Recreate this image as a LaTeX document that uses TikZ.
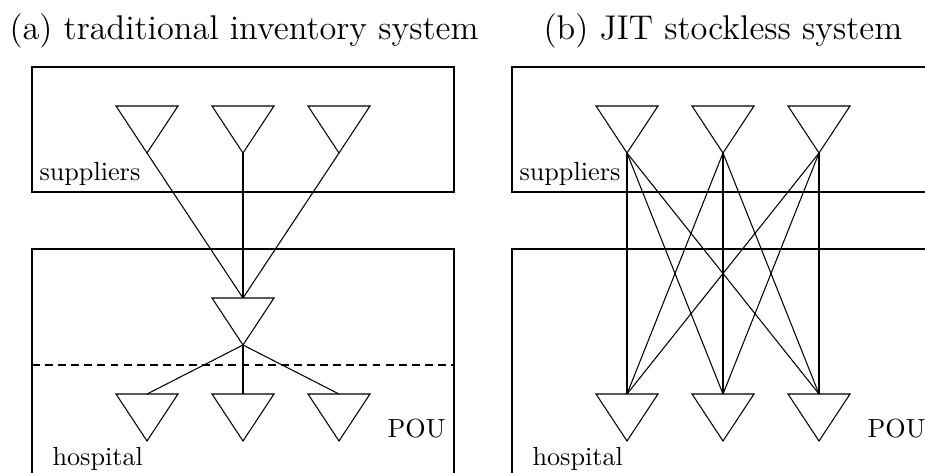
\documentclass[tikz,border=0pt]{standalone}
\begin{document}
\begin{tikzpicture}[x=0.3817pt,y=-0.3817pt,
  lbl/.style={anchor=base west,inner sep=0pt,font=\normalsize},
  ttl/.style={anchor=base west,inner sep=0pt,font=\fontsize{13.1pt}{16pt}\selectfont},
  flow/.style={line width=0.4pt},
  frame/.style={line width=0.4pt}]
\useasboundingbox (0,0) rectangle (925,472);
\clip (0,0) rectangle (925,472);

% a stock point: downward triangle, with named top-centre and apex
% args: name, centre x, top y
\def\stockpt#1#2#3{%
  \draw[line width=0.4pt] (#2-31,#3) -- (#2+31,#3) -- (#2,#3+47) -- cycle;
  \coordinate (#1-in) at (#2,#3);
  \coordinate (#1-out) at (#2,#3+47);}

% ---------------- (a) traditional inventory system ----------------
\node[ttl] (ta) at (9,39) {(a) traditional inventory system};
\draw[frame] (32,67) rectangle (454,192);
\draw[frame] (32,520) -- (32,249) -- (454,249) -- (454,520);
\draw[frame,dash pattern=on 3pt off 2pt] (32,365) -- (454,365);
\node[lbl] (supa) at (39,180) {suppliers};
\node[lbl] (hosa) at (52,465) {hospital};
\node[lbl] (poua) at (387,437) {POU};

\stockpt{as1}{147}{106}
\stockpt{as2}{243}{106}
\stockpt{as3}{339}{106}
\stockpt{am}{243}{298}
\stockpt{ap1}{147}{394}
\stockpt{ap2}{243}{394}
\stockpt{ap3}{339}{394}

\foreach \s in {as1,as2,as3} \draw[flow] (\s-out) -- (am-in);
\foreach \p in {ap1,ap2,ap3} \draw[flow] (am-out) -- (\p-in);

% ---------------- (b) JIT stockless system ----------------
\node[ttl] (tb) at (543,39) {(b) JIT stockless system};
\draw[frame] (960,67) -- (512,67) -- (512,192) -- (960,192);
\draw[frame] (960,249) -- (512,249) -- (512,520);
\node[lbl] (supb) at (519,180) {suppliers};
\node[lbl] (hosb) at (532,465) {hospital};
\node[lbl] (poub) at (867,437) {POU};

\stockpt{bs1}{627}{106}
\stockpt{bs2}{723}{106}
\stockpt{bs3}{819}{106}
\stockpt{bp1}{627}{394}
\stockpt{bp2}{723}{394}
\stockpt{bp3}{819}{394}

\foreach \s in {bs1,bs2,bs3}
  \foreach \p in {bp1,bp2,bp3}
    \draw[flow] (\s-out) -- (\p-in);
\end{tikzpicture}
\end{document}
